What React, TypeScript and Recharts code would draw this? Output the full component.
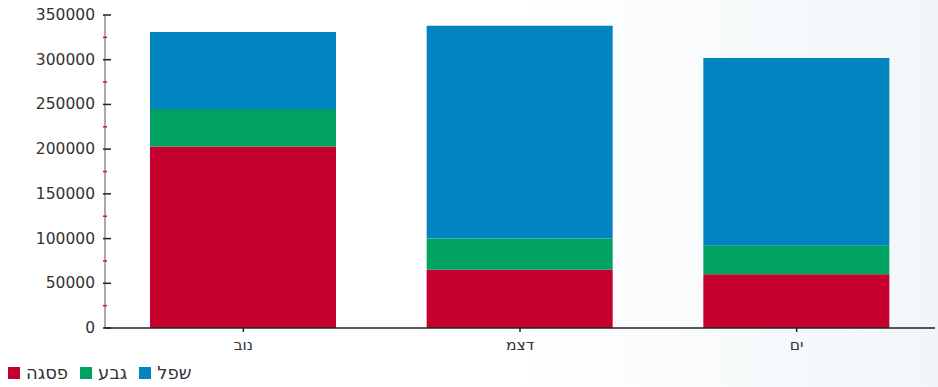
import React from "react";
import { BarChart, Bar, XAxis, YAxis, Legend } from "recharts";

const categories = ["נוב", "דצמ", "ים"];
const peakValues = [203000, 65000, 60000];
const hillValues = [42000, 35000, 32000];
const lowlandValues = [86000, 238000, 210000];
const seriesNames = ["פסגה", "גבע", "שפל"];
const seriesColors = ["#c4002f", "#00a262", "#0085c0"];
const yTicks = [0, 25000, 50000, 75000, 100000, 125000, 150000, 175000, 200000, 225000, 250000, 275000, 300000, 325000, 350000];

const data = categories.map((c, i) => ({
  name: c,
  peak: peakValues[i],
  hill: hillValues[i],
  lowland: lowlandValues[i],
}));
const keys = ["peak", "hill", "lowland"];

const FONT = "'DejaVu Sans', sans-serif";

const YTick = (props: any) => {
  const { x, y, payload } = props;
  const v = payload.value;
  const ax = x + 8; // axis position
  if (v % 50000 !== 0) {
    return <line x1={ax - 4} x2={ax} y1={y} y2={y} stroke="#e3101c" strokeWidth={1.5} />;
  }
  return (
    <g>
      <line x1={ax - 4} x2={ax + 4} y1={y} y2={y} stroke="#222" strokeWidth={1.5} />
      <text x={ax - 12} y={y} dy={5} textAnchor="end" fill="#333" fontSize={15.5} fontFamily={FONT}>
        {v}
      </text>
    </g>
  );
};

const XTick = (props: any) => {
  const { x, y, payload } = props;
  return (
    <g>
      <line x1={x} x2={x} y1={y - 8} y2={y - 4} stroke="#222" strokeWidth={1.5} />
      <text x={x} y={y + 14} textAnchor="middle" fill="#333" fontSize={15.5} fontFamily={FONT}>
        {payload.value}
      </text>
    </g>
  );
};

const LegendContent = () => (
  <div style={{ display: "flex", alignItems: "center", fontFamily: FONT, fontSize: 18, color: "#333", paddingLeft: 8, height: 29 }}>
    {seriesNames.map((n, i) => (
      <div key={n} style={{ display: "flex", alignItems: "center", marginRight: 12 }}>
        <span style={{ width: 12, height: 12, background: seriesColors[i], display: "inline-block", marginRight: 6 }} />
        <span>{n}</span>
      </div>
    ))}
  </div>
);

export default function App() {
  return (
    <div
      style={{
        position: "absolute",
        left: 0,
        top: 0,
        width: 938,
        height: 387,
        background: "linear-gradient(to right, #ffffff 0%, #ffffff 55%, #f1f6f9 100%)",
      }}
    >
      <BarChart width={938} height={387} data={data} margin={{ top: 15, right: 3, bottom: 0, left: 0 }} barSize={186}>
        <XAxis
          dataKey="name"
          height={30}
          axisLine={{ stroke: "#222", strokeWidth: 1.5 }}
          tickLine={false}
          tick={<XTick />}
          interval={0}
        />
        <YAxis
          width={105}
          domain={[0, 350000]}
          ticks={yTicks}
          interval={0}
          axisLine={{ stroke: "#555", strokeWidth: 1 }}
          tickLine={false}
          tick={<YTick />}
          tickMargin={0}
        />
        <Legend verticalAlign="bottom" align="left" height={29} content={<LegendContent />} />
        {keys.map((k, i) => (
          <Bar key={k} dataKey={k} name={seriesNames[i]} stackId="a" fill={seriesColors[i]} isAnimationActive={false} />
        ))}
      </BarChart>
    </div>
  );
}
